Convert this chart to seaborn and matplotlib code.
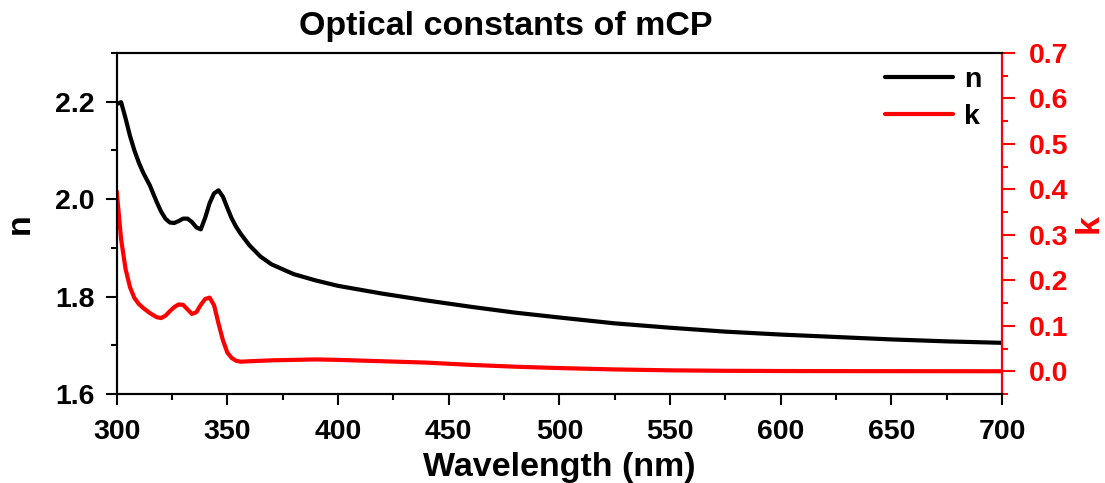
import matplotlib
matplotlib.use("Agg")
import matplotlib.pyplot as plt
import seaborn as sns
import pandas as pd
from matplotlib.ticker import MultipleLocator, FormatStrFormatter
from matplotlib.lines import Line2D

wavelength = [300, 302, 304, 306, 308, 310, 312, 315, 318, 320, 322, 324, 326, 328, 330,
              332, 334, 336, 338, 340, 342, 344, 346, 348, 350, 352, 354, 356, 360, 365,
              370, 380, 390, 400, 420, 440, 460, 480, 500, 525, 550, 575, 600, 625, 650,
              675, 700]
n_values = [2.195, 2.199, 2.166, 2.130, 2.100, 2.075, 2.054, 2.028, 1.995, 1.975, 1.960,
            1.952, 1.951, 1.955, 1.960, 1.960, 1.953, 1.942, 1.938, 1.962, 1.992, 2.012,
            2.018, 2.005, 1.982, 1.960, 1.943, 1.929, 1.905, 1.882, 1.866, 1.846, 1.833,
            1.822, 1.806, 1.792, 1.779, 1.767, 1.757, 1.745, 1.736, 1.728, 1.722, 1.717,
            1.712, 1.708, 1.705]
k_values = [0.396, 0.290, 0.225, 0.185, 0.161, 0.148, 0.139, 0.128, 0.119, 0.117, 0.122,
            0.132, 0.141, 0.147, 0.146, 0.136, 0.126, 0.130, 0.146, 0.159, 0.162, 0.145,
            0.105, 0.068, 0.041, 0.029, 0.023, 0.021, 0.022, 0.023, 0.024, 0.025, 0.026,
            0.025, 0.022, 0.019, 0.014, 0.010, 0.007, 0.004, 0.002, 0.001, 0.0005, 0.0003,
            0.0002, 0.0001, 0.0]

df = pd.DataFrame({"wavelength": wavelength, "n": n_values, "k": k_values})

sns.set_style("ticks", {"axes.edgecolor": "black", "text.color": "black",
                        "axes.labelcolor": "black", "xtick.color": "black",
                        "ytick.color": "black"})
plt.rcParams["font.family"] = ["Liberation Sans", "DejaVu Sans"]
plt.rcParams["font.weight"] = "bold"
plt.rcParams["axes.labelweight"] = "bold"

fig = plt.figure(figsize=(11.05, 4.83), dpi=100)
ax = fig.add_axes([0.1056, 0.1843, 0.9068 - 0.1056, 0.8903 - 0.1843])
ax2 = ax.twinx()

sns.lineplot(data=df, x="wavelength", y="n", ax=ax, color="black", linewidth=3)
sns.lineplot(data=df, x="wavelength", y="k", ax=ax2, color="red", linewidth=3)

ax.set_xlim(300, 700)
ax.set_ylim(1.6, 2.3)
ax2.set_ylim(-0.05, 0.7)

ax.xaxis.set_major_locator(MultipleLocator(50))
ax.xaxis.set_minor_locator(MultipleLocator(25))
ax.yaxis.set_major_locator(MultipleLocator(0.2))
ax.yaxis.set_minor_locator(MultipleLocator(0.1))
ax2.yaxis.set_major_locator(MultipleLocator(0.1))
ax2.yaxis.set_minor_locator(MultipleLocator(0.05))
ax.yaxis.set_major_formatter(FormatStrFormatter("%.1f"))
ax2.yaxis.set_major_formatter(FormatStrFormatter("%.1f"))

for a in (ax, ax2):
    for s in a.spines.values():
        s.set_linewidth(1.5)
        s.set_visible(True)
        s.set_color("black")

ax.tick_params(axis="both", which="major", direction="out", length=8, width=1.5,
               labelsize=20.5, top=False, right=False, colors="black")
ax.tick_params(axis="both", which="minor", direction="out", length=4, width=1.5,
               top=False, right=False, colors="black")
ax.tick_params(axis="x", which="major", pad=10)
ax.tick_params(axis="y", which="major", pad=8)
ax2.spines["right"].set_color("red")
ax2.tick_params(axis="y", which="major", direction="out", length=9, width=1.5,
                labelsize=20.5, colors="red", pad=10)
ax2.tick_params(axis="y", which="minor", direction="out", length=4.5, width=1.5,
                colors="red")

ax.set_xlabel("Wavelength (nm)", fontsize=24.5, fontweight="bold", labelpad=5,
              color="black")
ax.set_ylabel("n", fontsize=24.5, fontweight="bold", labelpad=14, color="black")
ax2.set_ylabel("k", fontsize=24.5, fontweight="bold", color="red", labelpad=4)

fig.text(0.458, 0.945, "Optical constants of mCP", ha="center", va="center",
         fontsize=24.5, fontweight="bold", color="black")

handles = [Line2D([0], [0], color="black", lw=3), Line2D([0], [0], color="red", lw=3)]
leg = ax2.legend(handles, ["n", "k"], loc="upper right", frameon=False, fontsize=20.5,
                 handlelength=2.4, handletextpad=0.4, labelspacing=0.4,
                 bbox_to_anchor=(1.006, 1.035))
for t in leg.get_texts():
    t.set_color("black")

fig.savefig("out.png", dpi=100)
